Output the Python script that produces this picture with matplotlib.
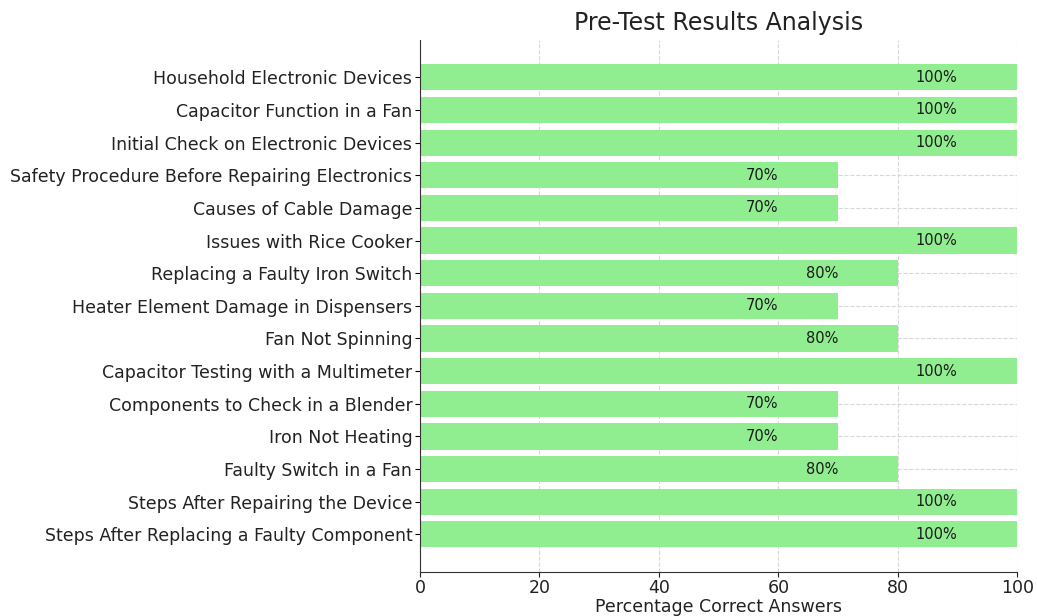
import matplotlib
matplotlib.use("Agg")
import matplotlib.pyplot as plt

# Pre-test questions, listed top to bottom as in the chart
topics = [
    "Household Electronic Devices",
    "Capacitor Function in a Fan",
    "Initial Check on Electronic Devices",
    "Safety Procedure Before Repairing Electronics",
    "Causes of Cable Damage",
    "Issues with Rice Cooker",
    "Replacing a Faulty Iron Switch",
    "Heater Element Damage in Dispensers",
    "Fan Not Spinning",
    "Capacitor Testing with a Multimeter",
    "Components to Check in a Blender",
    "Iron Not Heating",
    "Faulty Switch in a Fan",
    "Steps After Repairing the Device",
    "Steps After Replacing a Faulty Component",
]
percent_correct = [100, 100, 100, 70, 70, 100, 80, 70, 80, 100, 70, 70, 80, 100, 100]

fig, ax = plt.subplots(figsize=(10.37, 6.16), dpi=100)

ypos = list(range(len(topics)))
ax.barh(ypos, percent_correct, height=0.8, color="#90EE90", zorder=2)
ax.set_yticks(ypos)
ax.set_yticklabels(topics, fontsize=12.5, color="#222222")
ax.invert_yaxis()

for y, v in zip(ypos, percent_correct):
    ax.text(v - 10, y, f"{v}%", ha="right", va="center", fontsize=10.5, color="#1a1a1a", zorder=3)

ax.set_xlim(0, 100)
ax.set_xticks([0, 20, 40, 60, 80, 100])
ax.tick_params(axis="x", labelsize=12.5, colors="#222222", pad=1.5)
ax.tick_params(axis="y", pad=2)
ax.set_xlabel("Percentage Correct Answers", fontsize=12.5, color="#222222", labelpad=1)
ax.set_title("Pre-Test Results Analysis", fontsize=17, color="#222222", pad=7)

ax.grid(True, linestyle="--", color="#d8d8d8", linewidth=0.8, zorder=0)
ax.set_axisbelow(True)
ax.spines["top"].set_visible(False)
ax.spines["right"].set_visible(False)
ax.spines["left"].set_color("#333333")
ax.spines["bottom"].set_color("#333333")

plt.subplots_adjust(left=0.405, right=0.981, top=0.935, bottom=0.072)
plt.savefig("out.png")
plt.close()
